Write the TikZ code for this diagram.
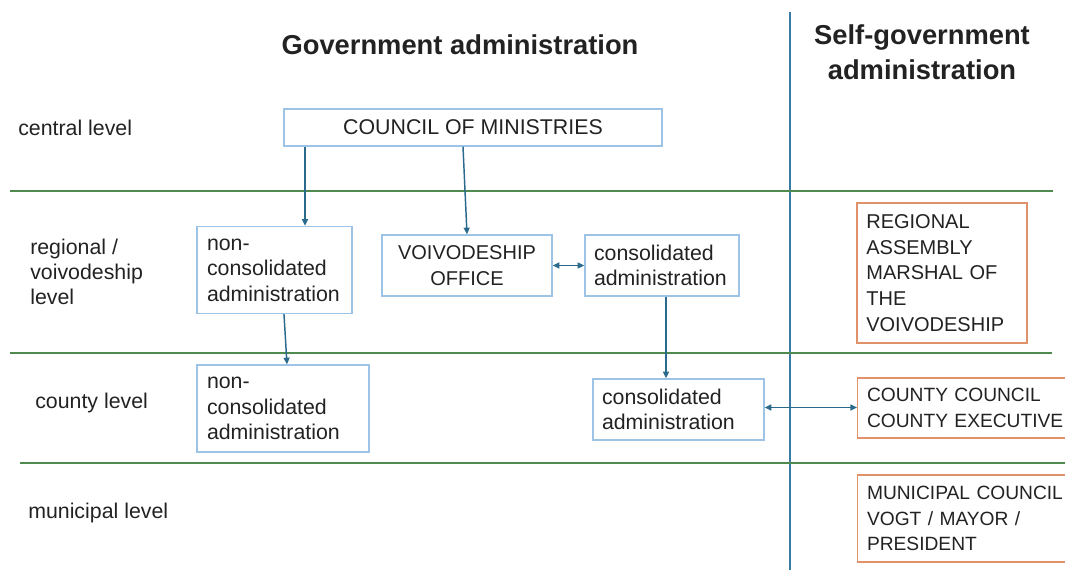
\documentclass[tikz,border=0pt]{standalone}
\usepackage{fontspec}
\setmainfont{Liberation Sans}
\usetikzlibrary{arrows.meta}
\definecolor{arrowc}{HTML}{2A6A8C}
\definecolor{boxblue}{HTML}{9DC3E6}
\definecolor{boxorange}{HTML}{E2926A}
\definecolor{levelgreen}{HTML}{4F8B4F}
\definecolor{dividerblue}{HTML}{3A7CA5}
\definecolor{ink}{HTML}{222222}
\hyphenpenalty=10000
\exhyphenpenalty=10000
\begin{document}
\begin{tikzpicture}[x=0.75pt,y=-0.75pt,
  every node/.style={text=ink},
  boxtext/.style={font=\fontsize{16}{19.2}\selectfont},
  capstext/.style={font=\fontsize{15}{19.3}\selectfont},
  edgecaps/.style={font=\fontsize{14.4}{19.3}\selectfont},
  govbox/.style={draw=boxblue,line width=1pt,rectangle,boxtext,inner xsep=7.5pt,inner ysep=0pt},
  selfbox/.style={draw=boxorange,line width=1pt,rectangle,capstext,inner xsep=7pt,inner ysep=0pt,align=left},
  lefttext/.style={align=left},
  levellabel/.style={anchor=west,align=left,inner sep=0pt,font=\fontsize{16}{19}\selectfont},
  heading/.style={font=\fontsize{20.5}{26}\selectfont\bfseries,align=center},
  arr/.style={draw=arrowc,line width=1.1pt,-{Triangle[length=5pt,width=4.5pt]}},
  dblarr/.style={draw=arrowc,line width=1.1pt,{Triangle[length=5pt,width=4.5pt]}-{Triangle[length=5pt,width=4.5pt]}},
  levelline/.style={draw=levelgreen,line width=1.5pt}]
\useasboundingbox (0,0) rectangle (1065,570);
\clip (0,0) rectangle (1065,570);

% headings
\node[heading] (gov) at (460,45) {Government administration};
\node[heading] (self) at (922,52) {Self-government\\administration};

% divider between the two administrations
\coordinate (dtop) at (790,12);
\coordinate (dbot) at (790,570);
\draw[dividerblue,line width=1.5pt] (dtop) -- (dbot);

% level separators
\coordinate (g1a) at (10,191);  \coordinate (g1b) at (1053,191);
\coordinate (g2a) at (10,353);  \coordinate (g2b) at (1052,353);
\coordinate (g3a) at (20,463);  \coordinate (g3b) at (1065,463);
\draw[levelline] (g1a) -- (g1b);
\draw[levelline] (g2a) -- (g2b);
\draw[levelline] (g3a) -- (g3b);

% level labels
\node[levellabel] (lcentral) at (18,128) {central level};
\node[levellabel] (lregional) at (30,272) {regional /\\voivodeship\\level};
\node[levellabel] (lcounty) at (35,403) {county level};
\node[levellabel] (lmunicipal) at (28,513) {municipal level};

% government administration boxes
\node[govbox,minimum width=283.5pt,minimum height=27.75pt] (council) at (473,127.5) {COUNCIL OF MINISTRIES};
\node[govbox,lefttext,minimum width=116.25pt,minimum height=65.25pt,text width=101.25pt] (nr) at (274.5,270) {non-\\consolidated\\administration};
\node[govbox,capstext,align=center,minimum width=127.5pt,minimum height=45.75pt] (vo) at (467,265.5) {VOIVODESHIP\\OFFICE};
\node[govbox,lefttext,minimum width=115.5pt,minimum height=45.75pt,text width=102pt,inner xsep=6.75pt] (cr) at (662,265.5) {consolidated\\administration};
\node[govbox,lefttext,minimum width=129pt,minimum height=65.25pt,text width=114pt] (nc) at (283,408.5) {non-\\consolidated\\administration};
\node[govbox,lefttext,minimum width=128.25pt,minimum height=45.75pt,text width=114.75pt,inner xsep=6.75pt] (cc) at (678.5,409.5) {consolidated\\administration};

% self-government boxes (the right two run past the page edge)
\node[selfbox,minimum width=127.5pt,minimum height=105pt,text width=113.5pt] (ra) at (942,273) {REGIONAL\\ASSEMBLY\\MARSHAL OF\\THE\\VOIVODESHIP};
\node[selfbox,edgecaps,anchor=west,minimum height=45pt,text width=200pt] (cco) at (857,408) {COUNTY COUNCIL\\COUNTY EXECUTIVE};
\node[selfbox,edgecaps,anchor=west,minimum height=65.25pt,text width=200pt] (mc) at (857,518.5) {MUNICIPAL COUNCIL\\VOGT / MAYOR /\\PRESIDENT};

% connectors
\coordinate (k1) at (305,0);
\coordinate (k3) at (666,0);
\draw[arr] (council.south -| k1) -- (nr.north -| k1);
\draw[arr] ([xshift=-7.5pt]council.south) -- (vo.north);
\draw[dblarr] (vo.east) -- (cr.west);
\draw[arr] (cr.south -| k3) -- (cc.north -| k3);
\draw[arr] ([xshift=7.1pt]nr.south) -- ([xshift=3pt]nc.north);
\draw[dblarr] ([yshift=1.5pt]cc.east) -- ([yshift=1.5pt]cc.east -| cco.west);
\end{tikzpicture}
\end{document}
